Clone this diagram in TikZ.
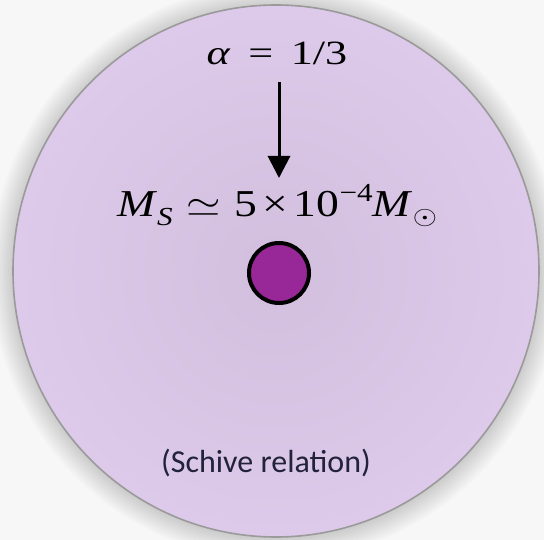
\documentclass[tikz,border=0pt]{standalone}
\usepackage{fontspec}
\usetikzlibrary{arrows.meta}
\newfontfamily\carlito{Carlito}
\newfontfamily\lser{Liberation Serif}
\newcommand\smallsz{\fontsize{26bp}{30bp}\selectfont}
\definecolor{bgc}{HTML}{F7F7F7}
\definecolor{discin}{HTML}{D2BEDD}
\definecolor{discout}{HTML}{DDCAEA}
\definecolor{rimc}{HTML}{9A9A9A}
\definecolor{dotc}{RGB}{152,40,152}
\definecolor{txtc}{HTML}{22223A}
\tikzset{
  mathlbl/.style={inner sep=0pt, anchor=base, text=black},
  arr/.style={line width=3bp, -{Triangle[width=22bp,length=22bp]}},
  smalldot/.style={circle, draw=black, line width=4bp, fill=dotc, minimum size=60bp, inner sep=0pt},
  note/.style={inner sep=0pt, anchor=base, text=txtc, font=\carlito\fontsize{32bp}{36bp}\selectfont}
}
\begin{document}
\begin{tikzpicture}[x=1bp,y=-1bp]
\useasboundingbox (0,0) rectangle (544,540);
\fill[bgc] (0,0) rectangle (544,540);
% soft shadow
\foreach \i in {1,...,14}{
  \fill[black,opacity=0.010] (276,272) ellipse ({263+1.6*\i} and {266+1.6*\i});
}
\shade[inner color=discin, outer color=discout] (276,271) ellipse (263 and 266);
\draw[rimc, line width=1.6bp] (276,271) ellipse (263 and 266);
% labels
\node[mathlbl, xscale=1.3, font=\lser\fontsize{34bp}{40bp}\selectfont] (alpha) at (277,65)
  {\textit{α}\hspace{0.4em}=\hspace{0.4em}1/3};
\node[mathlbl, xscale=1.2, font=\lser\fontsize{38bp}{44bp}\selectfont] (mass) at (277,217)
  {\textit{M}\raisebox{-0.22em}{\smallsz\textit{S}}\hspace{0.3em}\scalebox{3.7}{\normalsize$\simeq$}\hspace{0.3em}5\hspace{0.12em}×\hspace{0.12em}10\raisebox{0.42em}{\smallsz −4}\textit{M}\raisebox{-0.2em}{\scalebox{2.6}{\normalsize$\odot$}}};
\coordinate (atop) at (279,82);
\coordinate (atip) at (279,178);
\draw[arr] (atop) -- (atip);
\node[smalldot] (dot) at (279,273) {};
\node[note] (schive) at (266,472) {(Schive relation)};
\end{tikzpicture}
\end{document}
